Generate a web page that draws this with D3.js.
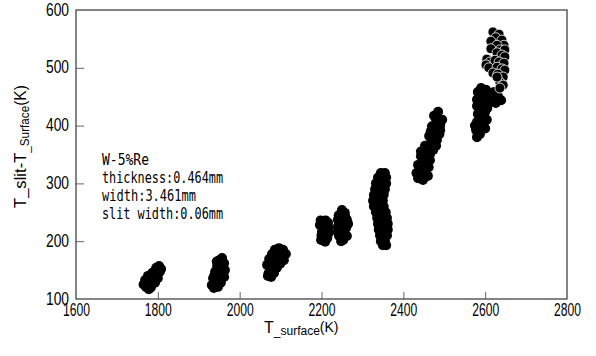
<!DOCTYPE html>
<html>
<head>
<meta charset="utf-8">
<script src="https://cdn.jsdelivr.net/npm/d3@7"></script>
<style>
  body { margin: 0; background: #fff; }
  svg { display: block; }
  .tick-label { font-family: "Liberation Sans", Arial, sans-serif; fill: #000; }
  .axis-title { font-family: "Liberation Sans", Arial, sans-serif; fill: #000; }
  .note { font-family: "DejaVu Sans Mono", "Liberation Mono", monospace; font-size: 16px; fill: #000; }
</style>
</head>
<body>
<div id="chart"></div>
<script>
// Scatter: slit temperature rise vs surface temperature
// ------------------------------------------------------

var xTicks = [1600, 1800, 2000, 2200, 2400, 2600, 2800];
var yTicks = [100, 200, 300, 400, 500, 600];

var noteLines = ["W-5%Re", "thickness:0.464mm", "width:3.461mm", "slit width:0.06mm"];

// measured points, [T_surface, T_slit - T_surface]
var run1800 = [[1771,121],[1769,133],[1776,140],[1781,126],[1786,136],[1791,147],[1796,154],[1803,157],
  [1805,147],[1800,136],[1793,128],[1778,117],[1774,126],[1788,142],[1798,143],[1808,152],
  [1783,131],[1790,138],[1795,148],[1779,133],[1772,128],[1786,145],[1801,150],[1796,135],[1765,125],[1783,120]];
var run1950 = [[1932,124],[1937,119],[1935,136],[1940,147],[1945,157],[1950,167],[1957,171],[1962,162],
  [1964,150],[1962,138],[1954,128],[1947,121],[1942,133],[1952,143],[1957,154],[1947,150],
  [1945,140],[1950,155],[1955,160],[1940,128],[1960,145],[1949,130],[1938,140],[1953,135],[1944,165]];
var run2100 = [[2069,140],[2074,150],[2067,159],[2072,169],[2079,178],[2086,185],[2096,188],[2106,185],
  [2113,178],[2108,167],[2099,161],[2091,154],[2084,145],[2077,138],[2094,174],[2081,164],
  [2086,160],[2090,170],[2100,178],[2080,150],[2074,160],[2102,170],[2088,180],[2071,145]];
var run2200 = [[2196,228],[2201,216],[2199,202],[2206,209],[2211,223],[2216,212],[2209,199],[2204,233],
  [2201,225],[2206,218],[2213,220],[2200,210],[2207,204],[2214,205],[2216,225],[2218,218],[2216,232],
  [2210,236],[2198,236]];
var run2250 = [[2240,237],[2248,247],[2257,249],[2262,237],[2260,223],[2262,209],[2253,202],[2243,209],
  [2245,223],[2255,230],[2250,215],[2250,235],[2258,242],[2255,215],[2247,225],[2240,225],[2240,215],
  [2242,245],[2250,254],[2265,230],[2248,200]];
var run2340 = [[2345,318],[2355,318],[2338,310],[2348,310],[2358,310],[2333,300],[2345,300],[2358,300],
  [2331,290],[2343,290],[2355,290],[2328,280],[2340,280],[2352,280],[2326,270],[2338,270],[2350,270],
  [2328,260],[2340,260],[2352,260],[2333,250],[2345,250],[2357,250],[2336,240],[2348,240],[2360,240],
  [2338,230],[2350,230],[2362,230],[2340,220],[2352,220],[2362,220],[2343,210],[2353,210],[2360,210],
  [2345,200],[2355,200],[2350,193],[2358,193],[2336,296],[2352,285],[2334,276],[2346,265],[2355,245],
  [2344,235],[2357,226],[2348,215],[2350,205]];
var run2450 = [[2436,309],[2448,306],[2460,313],[2441,320],[2455,323],[2436,332],[2451,337],[2465,340],
  [2443,347],[2458,354],[2473,358],[2453,365],[2468,372],[2482,375],[2463,382],[2477,389],[2490,392],
  [2470,399],[2485,406],[2475,417],[2485,424],[2495,410],[2458,330],[2480,365],
  [2445,315],[2450,328],[2462,328],[2448,345],[2465,350],[2458,362],[2470,365],[2475,380],[2467,390],
  [2478,398],[2480,410],[2490,400],[2432,318],[2455,342],[2443,355],[2488,385]];
var run2590 = [[2580,380],[2587,385],[2578,392],[2590,398],[2580,406],[2592,413],[2582,420],[2595,427],
  [2580,434],[2592,441],[2585,448],[2597,453],[2582,458],[2590,465],[2602,462],[2612,455],[2622,458],
  [2631,451],[2639,444],[2617,444],[2607,437],[2626,439],[2600,424],[2604,410],[2597,399],
  [2585,390],[2590,405],[2587,428],[2588,445],[2600,450],[2610,445],[2620,450],[2630,445],[2595,435],
  [2605,430],[2575,400],[2580,445],[2597,415],[2600,395],[2587,413]];
var run2630 = [[2619,562],[2634,558],[2626,552],[2641,548],[2646,539],[2614,546],[2629,539],[2636,531],
  [2648,531],[2614,533],[2629,526],[2641,522],[2648,519],[2604,515],[2612,510],[2624,513],[2634,510],
  [2646,508],[2602,505],[2609,500],[2629,501],[2641,498],[2648,496],[2619,491],[2631,489],[2644,484],
  [2636,475],[2644,470],[2636,465],[2629,484]];

// dense runs print as solid blobs, the top one shows its outlines
var denseRuns = [run1800, run1950, run2100, run2200, run2250, run2340, run2450, run2590];
var openRuns = [run2630];

var width = 596, height = 356;
var margin = {top: 10, right: 29, bottom: 57, left: 76};
var innerW = width - margin.left - margin.right,
    innerH = height - margin.top - margin.bottom;

var x = d3.scaleLinear().domain([1600, 2800]).range([0, innerW]);
var y = d3.scaleLinear().domain([100, 600]).range([innerH, 0]);

var svg = d3.select("#chart").append("svg")
  .attr("width", width)
  .attr("height", height);

var g = svg.append("g").attr("transform", "translate(" + margin.left + "," + margin.top + ")");

// inner ticks
var xAxis = g.append("g")
  .attr("transform", "translate(0," + innerH + ")")
  .call(d3.axisBottom(x).tickValues(xTicks).tickSizeInner(-7).tickSizeOuter(0).tickPadding(4).tickFormat(d3.format("d")));
var yAxis = g.append("g")
  .call(d3.axisLeft(y).tickValues(yTicks).tickSizeInner(-8).tickSizeOuter(0).tickPadding(7).tickFormat(d3.format("d")));

[xAxis, yAxis].forEach(function(a) {
  a.select(".domain").remove();
  a.selectAll(".tick line").attr("stroke", "#666").attr("stroke-width", 1);
  a.selectAll(".tick text").attr("class", "tick-label").attr("font-family", null).attr("font-size", null)
    .attr("lengthAdjust", "spacingAndGlyphs");
});
xAxis.selectAll(".tick text").attr("font-size", 18).attr("textLength", 27);
yAxis.selectAll(".tick text").attr("font-size", 18).attr("textLength", 23).attr("dy", "0.28em");
// no ticks on the frame itself
xAxis.selectAll(".tick line").filter(function(d) { return d === 1600 || d === 2800; }).remove();
yAxis.selectAll(".tick line").filter(function(d) { return d === 100 || d === 600; }).remove();

// frame
g.append("rect")
  .attr("width", innerW)
  .attr("height", innerH)
  .attr("fill", "none")
  .attr("stroke", "#444")
  .attr("stroke-width", 1.3);

function drawRuns(data, stroke) {
  g.append("g").selectAll("g")
    .data(data)
    .enter().append("g")
    .selectAll("circle")
    .data(function(d) { return d; })
    .enter().append("circle")
    .attr("cx", function(d) { return x(d[0]); })
    .attr("cy", function(d) { return y(d[1]); })
    .attr("r", 5)
    .attr("fill", "#000")
    .attr("stroke", stroke)
    .attr("stroke-width", 0.8);
}
drawRuns(denseRuns, "none");
drawRuns(openRuns, "#fff");

// note
var noteWidths = [47, 121, 94, 121];
noteLines.forEach(function(line, i) {
  svg.append("text")
    .attr("class", "note")
    .attr("x", 102)
    .attr("y", 165 + i * 18)
    .attr("textLength", noteWidths[i])
    .attr("lengthAdjust", "spacingAndGlyphs")
    .text(line);
});

// x title
var xt = svg.append("text")
  .attr("class", "axis-title")
  .attr("x", 264)
  .attr("y", 333)
  .attr("font-size", 16);
xt.append("tspan").text("T");
xt.append("tspan").attr("font-size", 12).attr("dy", 2).text("_surface");
xt.append("tspan").attr("dy", -3).attr("font-size", 14).text("(K)");

// y title
var yt = svg.append("text")
  .attr("class", "axis-title")
  .attr("transform", "translate(26,208) rotate(-90)")
  .attr("font-size", 17)
  .attr("textLength", 123)
  .attr("lengthAdjust", "spacingAndGlyphs");
yt.append("tspan").text("T_slit-T");
yt.append("tspan").attr("font-size", 12).attr("dy", 3).text("_Surface");
yt.append("tspan").attr("dy", -3).attr("font-size", 16).text("(K)");
</script>
</body>
</html>
